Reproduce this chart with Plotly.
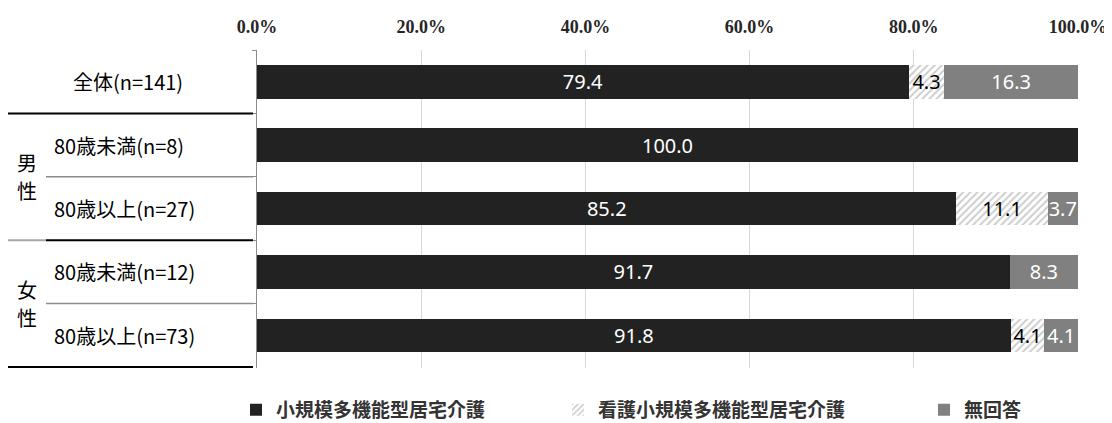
import plotly.graph_objects as go

# ---- data ----
categories = ["全体(n=141)", "80歳未満(n=8)", "80歳以上(n=27)", "80歳未満(n=12)", "80歳以上(n=73)"]
series_names = ["小規模多機能型居宅介護", "看護小規模多機能型居宅介護", "無回答"]
small_multi = [79.4, 100.0, 85.2, 91.7, 91.8]
nursing_small_multi = [4.3, 0.0, 11.1, 0.0, 4.1]
no_answer = [16.3, 0.0, 3.7, 8.3, 4.1]
tick_values = [0, 20, 40, 60, 80, 100]
tick_labels = ["0.0%", "20.0%", "40.0%", "60.0%", "80.0%", "100.0%"]
group_chars = [("男", "性"), ("女", "性")]

# page body has an 8px margin, so the figure is 8px smaller than the window
OFF = 8
W, H = 1112 - OFF, 423 - OFF
L, R, T, B = 257 - OFF, 34, 50 - OFF, 55
PW = W - L - R


def px_to_paper_x(px):
    # px measured in page (window) pixels
    return (px - OFF - L) / PW


def fmt(vals):
    return [f"{v:.1f}" if v > 0 else "" for v in vals]


label_font = dict(family="Noto Sans, Roboto, sans-serif", size=20)

fig = go.Figure()
fig.add_trace(go.Bar(
    y=categories, x=small_multi, orientation="h", name=series_names[0],
    marker=dict(color="#222222", line=dict(width=0)),
    text=fmt(small_multi), textposition="inside", insidetextanchor="middle", textangle=0,
    textfont=dict(color="white", **label_font), legendwidth=277,
    hoverinfo="x+y",
))
fig.add_trace(go.Bar(
    y=categories, x=nursing_small_multi, orientation="h", name=series_names[1],
    marker=dict(color="white", line=dict(width=0),
                pattern=dict(shape="/", fgcolor="#9a9a9a", bgcolor="white", size=5, solidity=0.4)),
    text=fmt(nursing_small_multi), textposition="inside", insidetextanchor="middle", textangle=0,
    textfont=dict(color="black", **label_font), legendwidth=321,
    hoverinfo="x+y",
))
fig.add_trace(go.Bar(
    y=categories, x=no_answer, orientation="h", name=series_names[2],
    marker=dict(color="#808080", line=dict(width=0)),
    text=fmt(no_answer), textposition="inside", insidetextanchor="middle", textangle=0,
    textfont=dict(color="white", **label_font),
    hoverinfo="x+y",
))

fig.update_layout(
    width=W, height=H,
    margin=dict(l=L, r=R, t=T, b=B, pad=0, autoexpand=False),
    barmode="stack", bargap=0.47,
    plot_bgcolor="white", paper_bgcolor="white",
    uniformtext=dict(minsize=20, mode="show"),
    showlegend=True,
    legend=dict(
        orientation="h", x=px_to_paper_x(236), xanchor="left",
        y=-0.072, yanchor="top",
        font=dict(family="Noto Sans CJK JP", size=19, color="#333333", weight="bold"),
        traceorder="normal", itemclick=False, itemdoubleclick=False,
    ),
    xaxis=dict(
        range=[0, 100], side="top", tickvals=tick_values, ticktext=tick_labels,
        showgrid=True, gridcolor="#d9d9d9", gridwidth=1, zeroline=False,
        showline=False, ticks="", ticklabelstandoff=12,
        tickfont=dict(family="Liberation Serif, serif", size=18, color="#262626", weight="bold"),
        fixedrange=True, automargin=False,
    ),
    yaxis=dict(
        categoryorder="array", categoryarray=categories, autorange="reversed",
        showticklabels=False, showgrid=False, zeroline=False,
        showline=True, linecolor="#8c8c8c", linewidth=1,
        ticks="outside", ticklen=4, tickcolor="#8c8c8c", tickson="boundaries",
        fixedrange=True, automargin=False,
    ),
    font=dict(family="Noto Sans CJK JP, sans-serif", color="#000000"),
)

# row labels (left table)
cat_font = dict(family="Noto Sans CJK JP", size=20, color="#000000")
fig.add_annotation(x=px_to_paper_x(128), y=categories[0], xref="paper", yref="y",
                   text=categories[0], showarrow=False, xanchor="center", yanchor="middle", font=cat_font)
for c in categories[1:]:
    fig.add_annotation(x=px_to_paper_x(52), y=c, xref="paper", yref="y",
                       text=c, showarrow=False, xanchor="left", yanchor="middle", font=cat_font)
for (c1, c2), ypos in zip(group_chars, [1.5, 3.5]):
    fig.add_annotation(x=px_to_paper_x(27), y=ypos, xref="paper", yref="y", yshift=14,
                       text=c1, showarrow=False, xanchor="center", yanchor="middle",
                       font=cat_font, borderpad=0)
    fig.add_annotation(x=px_to_paper_x(27), y=ypos, xref="paper", yref="y", yshift=-14,
                       text=c2, showarrow=False, xanchor="center", yanchor="middle",
                       font=cat_font, borderpad=0)

# table lines
x_left = px_to_paper_x(6)
x_mid = px_to_paper_x(46)
x_right = px_to_paper_x(253)
lines = [
    (x_left, x_right, 0.5, "#000000", 2),
    (x_mid, x_right, 1.5, "#8c8c8c", 1.5),
    (x_left, x_mid, 2.5, "#a6a6a6", 2),
    (x_mid, x_right, 2.5, "#000000", 2),
    (x_mid, x_right, 3.5, "#8c8c8c", 1.5),
    (x_left, x_right, 4.5, "#000000", 2),
]
for x0, x1, yv, col, wd in lines:
    fig.add_shape(type="line", xref="paper", yref="y", x0=x0, x1=x1, y0=yv, y1=yv,
                  line=dict(color=col, width=wd))

fig.write_html("out.html")
